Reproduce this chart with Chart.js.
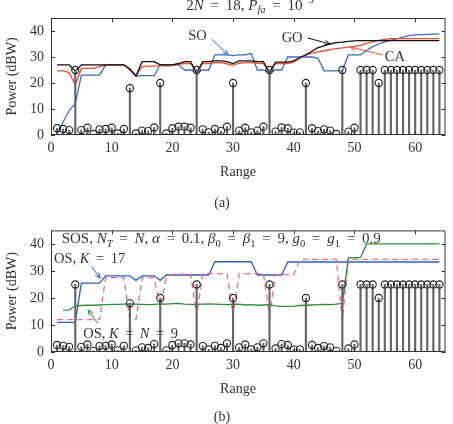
<!DOCTYPE html>
<html>
<head>
<meta charset="utf-8">
<script src="https://cdn.jsdelivr.net/npm/chart.js@4.4.1/dist/chart.umd.min.js"></script>
<style>
body { margin: 0; background: #fff; }
#wrap { position: relative; width: 453px; height: 424px; }
canvas { position: absolute; left: 0; }
</style>
</head>
<body>
<div id="wrap">
  <canvas id="chartA" width="453" height="215" style="top:0"></canvas>
  <canvas id="chartB" width="453" height="209" style="top:215px"></canvas>
</div>
<script>
// range cells
const ranges = [1,2,3,4,5,6,7,8,9,10,11,12,13,14,15,16,17,18,19,20,21,22,23,24,25,26,27,28,29,30,31,32,
  33,34,35,36,37,38,39,40,41,42,43,44,45,46,47,48,49,50,51,52,53,54,55,56,57,58,59,60,61,62,63,64];

// target / clutter power per cell (stems)
const targetPower = [2.6,2.3,1.9,25,1.9,2.8,0.4,2.2,2.3,2.8,0.6,2.3,18,0.6,1.7,1.5,2.9,20,0.6,2.6,3.2,3.2,2.8,25,
  2.2,1.0,2.3,1.5,3.2,20,1.7,2.8,1.0,1.7,3.2,25,1.3,2.9,2.6,0.9,1.0,20,2.6,1.5,2.2,1.7,0.4,25,1.3,2.8,
  25,25,25,20,25,25,25,25,25,25,25,25,25,25];

// (a) thresholds
const goPower = [27,27,27,24.5,27,27,27,27,27,27,27,27,25.5,22.7,28.2,28.2,28.2,27,27,27,27.5,28.2,28.2,24,
  28.2,28.2,28.5,28.5,28.2,27.5,28.5,28.5,28.5,28.2,28.2,24,28,28,28,28.5,29.8,30.8,32.2,33.6,34.3,35,35.5,35.7,
  36,36.2,36.3,36.3,36.3,36.3,36.3,36.3,36.3,36.3,36.3,36.3,36.3,36.3,36.3,36.3];
const caPower = [24.7,24.7,24,19.2,25.6,25.6,25.6,26.3,27,27,27,27,25,22.7,26.3,26.5,26.5,26.8,26.5,26.8,27.2,27.5,27.5,24,
  27.5,27.5,27.8,27.8,27.4,26.8,27.6,27.8,27.8,27.6,27.5,24,27.5,27.5,27.5,28,29.5,30.8,31.5,32,32.4,32.8,33.2,33.5,
  33.8,34,34.5,35.2,35.9,36.4,36.8,37.1,37.1,37.1,37.1,37.1,37.1,37.1,37.1,37.1];
const soPower = [0.5,5,9.5,12,23,23,23,23,27,27,27,27,25,22.7,22.8,22.8,22.8,27,27,27,27,25,25,24,
  25,25,30.8,30.8,30.8,30.5,30.8,30.8,31.3,25,25,24,25,25,30,30,30,30,30,29.5,24.7,24.7,24.7,24.7,
  30.8,30.8,30.8,32.5,34,35,35.8,36.5,37,37.6,38.2,38.5,38.6,38.7,38.8,38.9];

// (b) thresholds
const os17Power = [11,11,11,11,25.5,25.5,25.5,25.5,28.2,28.2,28.2,28.2,28.2,26.5,28.2,28.2,28.2,26.5,28.5,28.5,28.5,28.5,28.5,28.5,
  28.5,28.5,33.4,33.4,33.4,33.4,33.4,33.4,33.4,28.5,28.5,28.5,28.5,28.5,33.3,33.3,33.3,33.3,33.3,33.3,33.3,33.3,33.3,33.3,
  33.3,33.3,33.3,33.3,33.3,33.3,33.3,33.3,33.3,33.3,33.3,33.3,33.3,33.3,33.3,33.3];
const sosPower = [12,12,12,12,12,12,12,12,27.5,27.5,27.5,27.5,12,12,27.5,27.5,27.5,16.5,27.5,28.8,28.8,28.8,28.8,13.5,
  29,29,29,29,29,13.5,29,29,29,29,29,13.5,28.6,28.6,28.6,28.6,34.3,34.3,34.3,34.3,34.3,34.3,34.3,11.8,
  34.3,34.3,34.3,34.3,34.3,34.3,34.3,34.3,34.3,34.3,34.3,34.3,34.3,34.3,34.3,34.3];
const os9Power = [null,15.5,15.6,17,17.2,17.3,17.3,17.4,17.5,17.6,17.6,17.7,17.8,17.7,17.6,17.5,17.6,17.8,17.7,17.9,18,17.7,17.6,17.6,
  17.7,17.8,17.7,17.6,17.5,17.6,17.7,17.4,17.5,17.3,17.4,17.5,17.1,16.9,16.9,17,17.2,17.3,17.4,17.5,17.6,17.5,17.7,18,
  34.9,34.9,34.9,40,40,40,40,40,40,40,40,40,40,40,40,40];

const SERIF = '"Liberation Serif", "DejaVu Serif", serif';
const INK = '#333';
const EQ = '\u2009 = \u2009';   // wider spacing round "=" as in the TeX labels

function pts(arr) {
  return ranges.map((r, i) => ({ x: r, y: arr[i] }));
}

function line(arr, color, dash) {
  return {
    type: 'line', data: pts(arr), borderColor: color, borderWidth: 1.3,
    borderDash: dash || [], pointRadius: 0, tension: 0, order: 2
  };
}

function stemSets() {
  return [
    { type: 'bar', data: pts(targetPower), backgroundColor: '#666', barThickness: 1.5, order: 1 },
    { type: 'line', data: pts(targetPower), showLine: false, pointRadius: 3.6, pointBorderWidth: 1.1,
      pointBorderColor: '#222', pointBackgroundColor: 'rgba(0,0,0,0)', order: 0 }
  ];
}

function axes(xh) {
  return {
    x: {
      type: 'linear', min: 0, max: 65, offset: false,
      afterBuildTicks: s => { s.ticks = s.ticks.filter(t => t.value % 10 === 0); },
      afterFit: s => { s.height = xh; },
      grid: { display: false, drawTicks: false, offset: false }, border: { display: false },
      ticks: { stepSize: 10, includeBounds: false, padding: 5, color: INK, font: { family: SERIF, size: 14 } }
    },
    y: {
      min: 0, max: 45,
      afterBuildTicks: s => { s.ticks = s.ticks.filter(t => t.value % 10 === 0); },
      afterFit: s => { s.width = 51; },
      grid: { display: false, drawTicks: false }, border: { display: false },
      ticks: { stepSize: 10, includeBounds: false, padding: 7, color: INK, font: { family: SERIF, size: 14 } }
    }
  };
}

// draw text made of pieces: '' normal, 'i' italic, 'b' subscript, 'ib' italic subscript, 'p' superscript
function rich(ctx, segs, x, y, size, color, align) {
  const parts = segs.map(([t, st]) => {
    const small = st.includes('b') || st.includes('p');
    const sz = small ? size * 0.7 : size;
    const font = (st.includes('i') ? 'italic ' : '') + sz + 'px ' + SERIF;
    ctx.font = font;
    const dy = st.includes('b') ? size * 0.25 : (st.includes('p') ? -size * 0.42 : 0);
    return { t, font, dy, w: ctx.measureText(t).width };
  });
  const total = parts.reduce((a, p) => a + p.w, 0);
  let cx = align === 'center' ? x - total / 2 : x;
  ctx.fillStyle = color;
  ctx.textBaseline = 'alphabetic';
  ctx.textAlign = 'left';
  parts.forEach(p => { ctx.font = p.font; ctx.fillText(p.t, cx, y + p.dy); cx += p.w; });
}

function arrow(ctx, x1, y1, x2, y2, color) {
  const a = Math.atan2(y2 - y1, x2 - x1), h = 6;
  ctx.strokeStyle = color; ctx.lineWidth = 1;
  ctx.beginPath(); ctx.moveTo(x1, y1); ctx.lineTo(x2, y2);
  ctx.moveTo(x2 - h * Math.cos(a - 0.4), y2 - h * Math.sin(a - 0.4));
  ctx.lineTo(x2, y2);
  ctx.lineTo(x2 - h * Math.cos(a + 0.4), y2 - h * Math.sin(a + 0.4));
  ctx.stroke();
}

const deco = {
  id: 'deco',
  afterDraw(chart, args, opts) {
    const ctx = chart.ctx, ca = chart.chartArea, sx = chart.scales.x, sy = chart.scales.y;
    ctx.save();
    // box and inward ticks
    ctx.strokeStyle = INK; ctx.lineWidth = 1;
    ctx.strokeRect(ca.left + 0.5, ca.top + 0.5, ca.right - ca.left - 1, ca.bottom - ca.top - 1);
    ctx.beginPath();
    sx.ticks.forEach(t => {
      const px = Math.round(sx.getPixelForValue(t.value)) + 0.5;
      ctx.moveTo(px, ca.bottom); ctx.lineTo(px, ca.bottom - 4);
      ctx.moveTo(px, ca.top); ctx.lineTo(px, ca.top + 4);
    });
    sy.ticks.forEach(t => {
      const py = Math.round(sy.getPixelForValue(t.value)) + 0.5;
      ctx.moveTo(ca.left, py); ctx.lineTo(ca.left + 4, py);
      ctx.moveTo(ca.right, py); ctx.lineTo(ca.right - 4, py);
    });
    ctx.stroke();
    // notes in data units
    (opts.notes || []).forEach(n => {
      rich(ctx, n.segs, sx.getPixelForValue(n.x), sy.getPixelForValue(n.y), n.size, INK, 'left');
    });
    (opts.arrows || []).forEach(a => {
      arrow(ctx, sx.getPixelForValue(a[0]), sy.getPixelForValue(a[1]),
        sx.getPixelForValue(a[2]), sy.getPixelForValue(a[3]), a[4]);
    });
    // labels around the axes
    (opts.labels || []).forEach(l => rich(ctx, l.segs, l.x, l.y, l.size, INK, 'center'));
    ctx.translate(12, (ca.top + ca.bottom) / 2);
    ctx.rotate(-Math.PI / 2);
    ctx.font = '14px ' + SERIF; ctx.fillStyle = INK;
    ctx.textAlign = 'center'; ctx.textBaseline = 'middle';
    ctx.fillText('Power (dBW)', 0, 0);
    ctx.restore();
  }
};

new Chart(document.getElementById('chartA'), {
  data: {
    datasets: [
      line(goPower, '#111'),
      line(caPower, '#e8502f'),
      line(soPower, '#3b6cc0'),
      ...stemSets()
    ]
  },
  options: {
    responsive: false, animation: false, devicePixelRatio: 1,
    layout: { padding: { top: 18, right: 7.5, left: 0, bottom: 0 } },
    scales: axes(80),
    plugins: {
      legend: { display: false }, tooltip: { enabled: false },
      deco: {
        notes: [
          { x: 22.6, y: 36.5, size: 14.5, segs: [['SO', '']] },
          { x: 38, y: 35.8, size: 14.5, segs: [['GO', '']] },
          { x: 55, y: 28.5, size: 14.5, segs: [['CA', '']] }
        ],
        arrows: [
          [26.5, 36.8, 29.2, 30.8, '#3b6cc0'],
          [42.3, 37.3, 46, 35, '#111'],
          [54.7, 30.8, 49.3, 33.8, '#e8502f']
        ],
        labels: [
          { x: 250, y: 9.5, size: 15, segs: [['2', ''], ['N', 'i'], [EQ + '18, ', ''], ['P', 'i'], ['fa', 'ib'], [EQ + '10', ''], ['\u22125', 'p']] },
          { x: 238, y: 176, size: 14, segs: [['Range', '']] },
          { x: 222, y: 207, size: 14, segs: [['(a)', '']] }
        ]
      }
    }
  },
  plugins: [deco]
});

new Chart(document.getElementById('chartB'), {
  data: {
    datasets: [
      line(os9Power, '#2f8a3c'),
      line(sosPower, '#f06a9e', [6, 4]),
      line(os17Power, '#2f5fb8'),
      ...stemSets()
    ]
  },
  options: {
    responsive: false, animation: false, devicePixelRatio: 1,
    layout: { padding: { top: 10, right: 7.5, left: 0, bottom: 0 } },
    scales: axes(72),
    plugins: {
      legend: { display: false }, tooltip: { enabled: false },
      deco: {
        notes: [
          { x: 1.76, y: 40.4, size: 15, segs: [['SOS, ', ''], ['N', 'i'], ['T', 'ib'], [EQ, ''], ['N', 'i'], [', ', ''], ['\u03b1', 'i'],
            [EQ + '0.1, ', ''], ['\u03b2', 'i'], ['0', 'b'], [EQ, ''], ['\u03b2', 'i'], ['1', 'b'], [EQ + '9, ', ''], ['g', 'i'], ['0', 'b'],
            [EQ, ''], ['g', 'i'], ['1', 'b'], [EQ + '0.9', '']] },
          { x: 0.5, y: 33, size: 14.5, segs: [['OS, ', ''], ['K', 'i'], [EQ + '17', '']] },
          { x: 5.3, y: 5, size: 14.5, segs: [['OS, ', ''], ['K', 'i'], [EQ, ''], ['N', 'i'], [EQ + '9', '']] }
        ],
        arrows: [
          [6.7, 31.6, 8.1, 27.3, '#2f5fb8'],
          [7.7, 10.6, 6.1, 15.6, '#2f8a3c']
        ],
        labels: [
          { x: 238, y: 177.5, size: 14, segs: [['Range', '']] },
          { x: 222, y: 206, size: 14, segs: [['(b)', '']] }
        ]
      }
    }
  },
  plugins: [deco]
});
</script>
</body>
</html>
